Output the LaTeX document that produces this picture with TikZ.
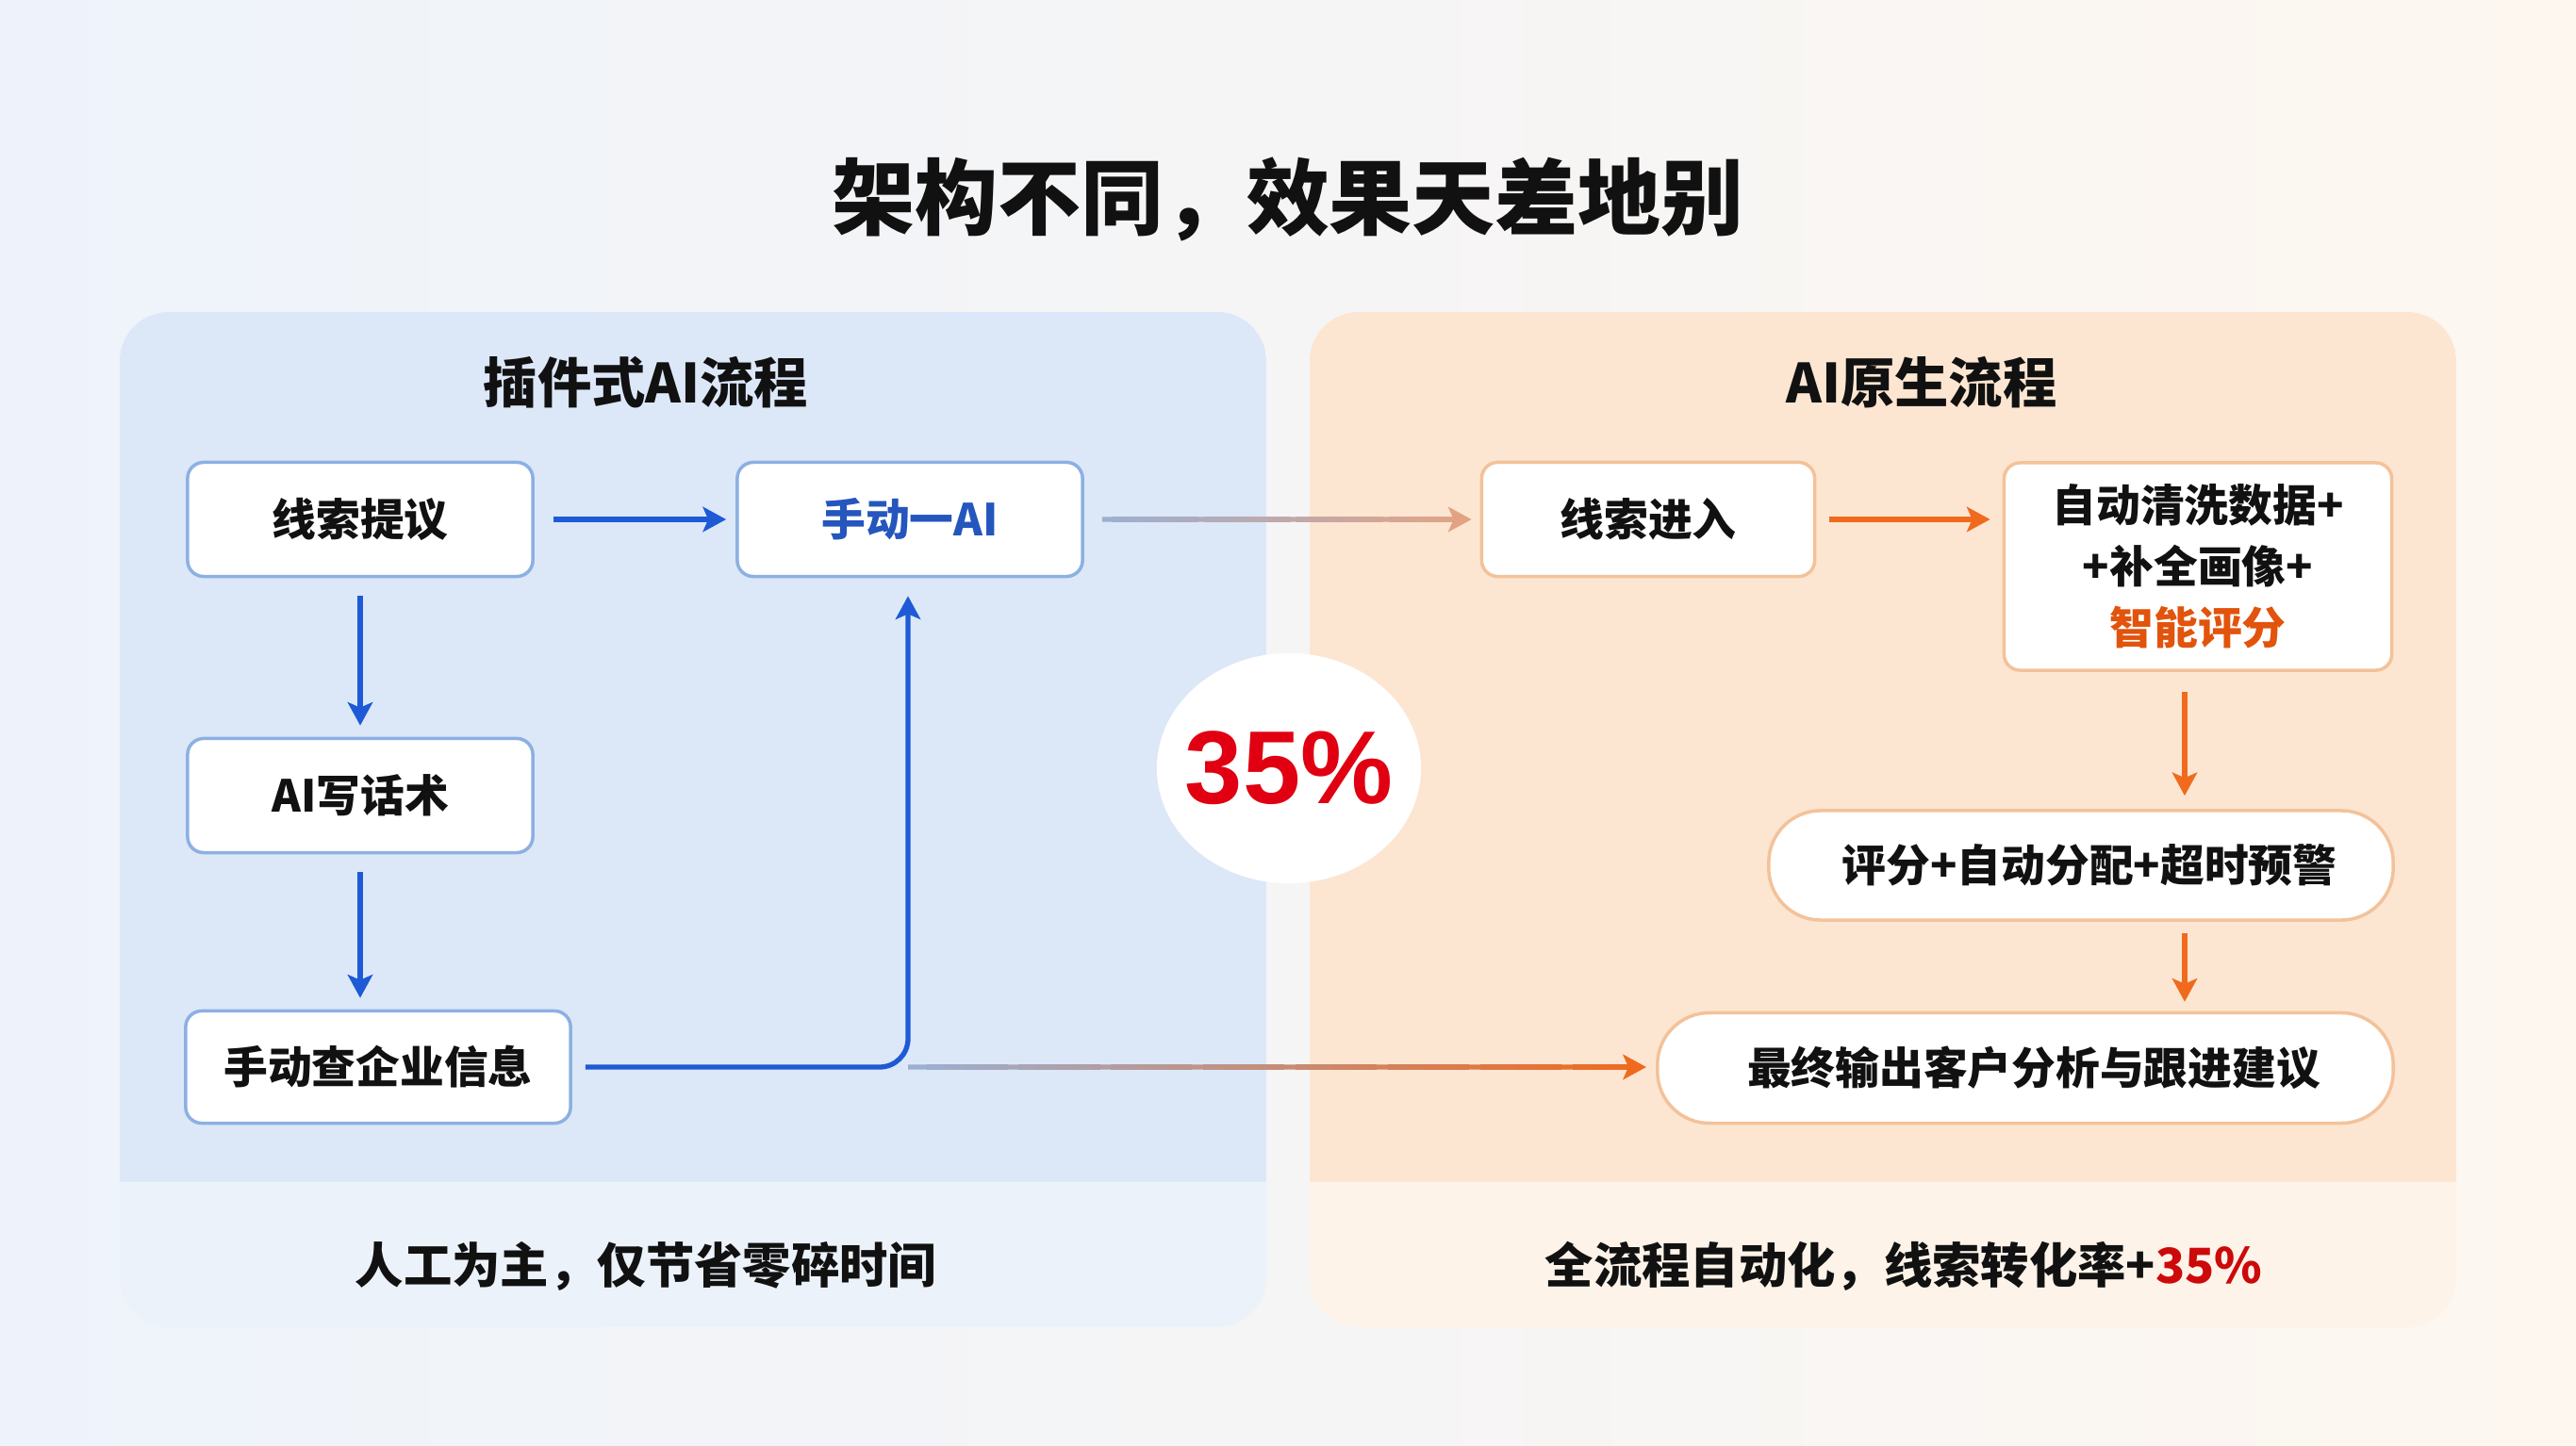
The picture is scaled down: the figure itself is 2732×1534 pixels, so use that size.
\documentclass[tikz,border=0pt]{standalone}
\usepackage{fontspec}
\setmainfont{Noto Sans CJK SC}
\newfontfamily\numfont{Liberation Sans}
\usetikzlibrary{arrows.meta,calc,shapes.geometric}

\definecolor{bgL}{HTML}{EEF3FB}
\definecolor{bgR}{HTML}{FDF7F0}
\definecolor{panelB}{HTML}{DCE8F8}
\definecolor{bandB}{HTML}{ECF2FA}
\definecolor{panelO}{HTML}{FCE6D2}
\definecolor{bandO}{HTML}{FDF3E9}
\definecolor{borderB}{HTML}{8DB0E2}
\definecolor{borderO}{HTML}{F3C29A}
\definecolor{arrB}{HTML}{1E5AD6}
\definecolor{arrO}{HTML}{F06A1E}
\definecolor{greyB}{HTML}{9CAFD0}
\definecolor{tanO}{HTML}{E3A383}
\definecolor{redA}{HTML}{E00012}
\definecolor{redB}{HTML}{CC0A0A}
\definecolor{txtB}{HTML}{2456BE}
\definecolor{txtO}{HTML}{E2530C}
\definecolor{ink}{HTML}{111111}

\tikzset{
  tip/.style={-{Stealth[length=7pt,width=7.5pt,inset=1.6pt]}},
  barrow/.style={tip, draw=arrB, line width=1.5pt},
  oarrow/.style={tip, draw=arrO, line width=1.5pt},
  boxtext/.style={font=\fontsize{13.3pt}{16pt}\selectfont\bfseries, text=ink},
  bbox/.style={boxtext, draw=borderB, line width=1pt, fill=white, rounded corners=0.17cm,
               inner sep=0pt, minimum width=3.66cm, minimum height=1.21cm},
  obox/.style={boxtext, draw=borderO, line width=1pt, fill=white, rounded corners=0.17cm,
               inner sep=0pt, minimum height=1.21cm},
  opill/.style={boxtext, draw=borderO, line width=1pt, fill=white, rounded corners=0.55cm,
               inner sep=0pt, minimum height=1.16cm},
  ptitle/.style={font=\fontsize{16.3pt}{19pt}\selectfont\bfseries, text=ink},
  btext/.style={font=\fontsize{14.6pt}{18pt}\selectfont\bfseries, text=ink},
}

\newcommand\gradarrow[4]{%
  \foreach \i in {0,...,38}{%
    \pgfmathsetmacro\ga{\i/40}%
    \pgfmathsetmacro\gb{(\i+1.4)/40}%
    \pgfmathtruncatemacro\gq{round(100*\i/39)}%
    \draw[line width=1.5pt, draw=#4!\gq!#3] ($(#1)!\ga!(#2)$) -- ($(#1)!\gb!(#2)$);
  }%
  \draw[tip, line width=1.5pt, draw=#4] ($(#1)!0.975!(#2)$) -- (#2);
}

\begin{document}
\begin{tikzpicture}[x=0.01cm,y=-0.01cm]
\useasboundingbox (0,0) rectangle (2732,1534);
\shade[left color=bgL, right color=bgR] (0,0) rectangle (2732,1534);

% title
\node[font=\fontsize{25pt}{30pt}\selectfont\bfseries, text=ink] (title) at (1366,212) {架构不同，效果天差地别};

% left panel
\begin{scope}
  \clip[rounded corners=0.52cm] (127,331) rectangle (1343,1408);
  \fill[panelB] (127,331) rectangle (1343,1254);
  \fill[bandB] (127,1254) rectangle (1343,1408);
\end{scope}
% right panel
\begin{scope}
  \clip[rounded corners=0.52cm] (1389,331) rectangle (2605,1408);
  \fill[panelO] (1389,331) rectangle (2605,1254);
  \fill[bandO] (1389,1254) rectangle (2605,1408);
\end{scope}

\node[ptitle] (tl) at (685,406) {插件式AI流程};
\node[ptitle] (tr) at (2038,406) {AI原生流程};

% center badge
\node[ellipse, fill=white, minimum width=2.8cm, minimum height=2.44cm, inner sep=0pt] (pc) at (1367,815) {};
\node[font=\numfont\fontsize{31.3pt}{36pt}\selectfont\bfseries, text=redA, inner sep=0pt] (pct) at (pc.center) {35\%};

% left nodes
\node[bbox] (ln) at (382,551) {线索提议};
\node[bbox, text=txtB] (ai) at (965,551) {手动一AI};
\node[bbox] (aw) at (382,844) {AI写话术};
\node[bbox, minimum width=4.08cm, minimum height=1.19cm] (mq) at (401,1132) {手动查企业信息};

% right nodes
\node[obox, minimum width=3.53cm] (lj) at (1748,551) {线索进入};
\node[obox, minimum width=4.11cm, minimum height=2.2cm, align=center,
      font=\fontsize{13.3pt}{18.5pt}\selectfont\bfseries] (cl) at (2331,601)
      {自动清洗数据+\\+补全画像+\\{\color{txtO}智能评分}};
\node[opill, minimum width=6.62cm] (pf) at (2207,918) {\hspace{0.18cm}评分+自动分配+超时预警};
\node[opill, minimum width=7.80cm, minimum height=1.17cm] (fo) at (2148,1133) {\hspace{0.18cm}最终输出客户分析与跟进建议};

% bottom texts
\node[btext] (bl) at (685,1343) {人工为主，仅节省零碎时间};
\node[btext] (br) at (2019,1343) {全流程自动化，线索转化率+{\color{redB}35\%}};

% left connectors
\draw[barrow, shorten <=0.2cm, shorten >=0.1cm] (ln.east) -- (ai.west);
\draw[barrow, shorten <=0.19cm, shorten >=0.12cm] (ln.south) -- (aw.north);
\draw[barrow, shorten <=0.19cm, shorten >=0.12cm] (aw.south) -- (aw.south |- mq.north);

\coordinate (c1) at ($(ai.south)+(-2,0)$);
\coordinate (c2) at (c1 |- mq.east);
\coordinate (g1) at ($(fo.west |- mq.east)+(-10,0)$);
\gradarrow{c2}{g1}{greyB}{arrO}
\draw[barrow, rounded corners=0.3cm, shorten <=0.14cm, shorten >=0.19cm] (mq.east) -- (c2) -- (c1);

\coordinate (h0) at ($(ai.east)+(19,0)$);
\coordinate (h1) at ($(lj.west)+(-9,0)$);
\gradarrow{h0}{h1}{greyB}{tanO}

% right connectors
\draw[oarrow, shorten <=0.14cm, shorten >=0.13cm] (lj.east) -- (cl.west |- lj.east);
\coordinate (x1) at ($(cl.south)+(-14,0)$);
\draw[oarrow, shorten <=0.21cm, shorten >=0.14cm] (x1) -- (x1 |- pf.north);
\coordinate (x2) at (x1 |- pf.south);
\draw[oarrow, shorten <=0.12cm, shorten >=0.1cm] (x2) -- (x2 |- fo.north);
\end{tikzpicture}
\end{document}
